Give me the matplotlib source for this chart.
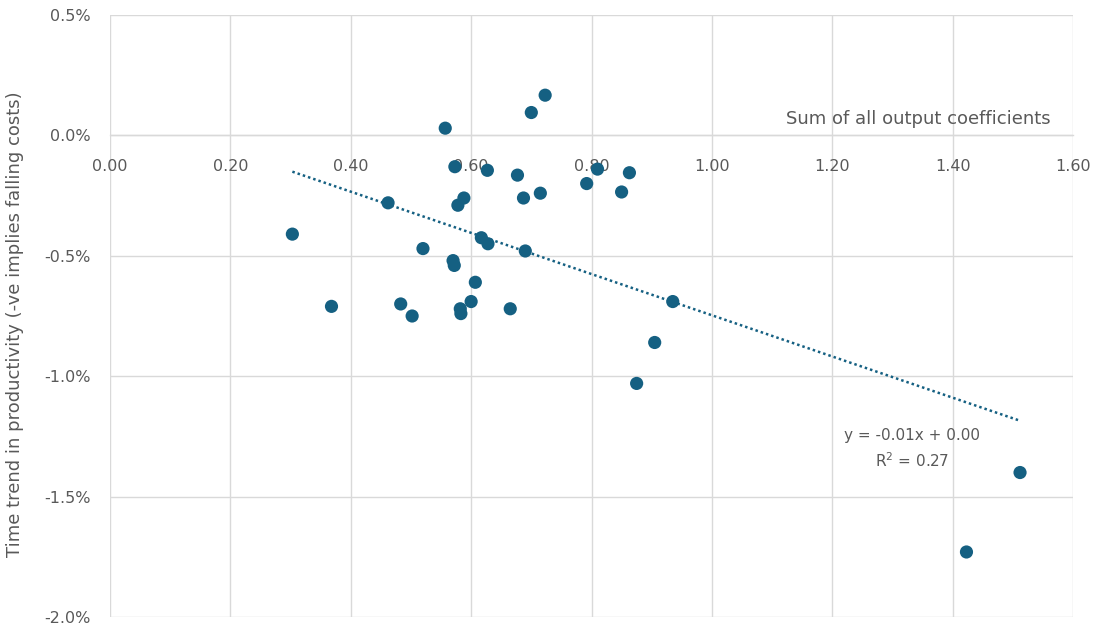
import matplotlib.pyplot as plt
import numpy as np
from matplotlib.ticker import FuncFormatter

# sum of output coefficients vs productivity time trend (%)
output_coef = [0.303, 0.368, 0.462, 0.483, 0.502, 0.520, 0.557, 0.570, 0.572,
               0.573, 0.578, 0.588, 0.617, 0.628, 0.607, 0.600, 0.582, 0.583,
               0.627, 0.677, 0.687, 0.690, 0.665, 0.700, 0.715, 0.723, 0.792,
               0.810, 0.850, 0.863, 0.935, 0.905, 0.875, 1.512, 1.423]
trend_pct = [-0.41, -0.71, -0.28, -0.70, -0.75, -0.47, 0.03, -0.52, -0.54,
             -0.13, -0.29, -0.26, -0.425, -0.45, -0.61, -0.69, -0.72, -0.74,
             -0.145, -0.165, -0.26, -0.48, -0.72, 0.095, -0.24, 0.167, -0.20,
             -0.14, -0.235, -0.155, -0.69, -0.86, -1.03, -1.40, -1.73]

x_ticks = [0.0, 0.2, 0.4, 0.6, 0.8, 1.0, 1.2, 1.4, 1.6]
y_ticks = [0.5, 0.0, -0.5, -1.0, -1.5, -2.0]

dot_color = "#156082"
grid_color = "#d9d9d9"
text_color = "#595959"

plt.rcParams['font.family'] = ['DejaVu Sans']

fig = plt.figure(figsize=(10.97, 6.28), dpi=100)
ax = fig.add_axes([110 / 1097, 1 - 617 / 628, 963 / 1097, 602 / 628])

ax.set_xlim(0, 1.6)
ax.set_ylim(-2.0, 0.5)
ax.set_xticks(x_ticks)
ax.set_yticks(y_ticks)
ax.grid(True, color=grid_color, linewidth=1.0, zorder=0)
ax.set_axisbelow(True)

for side in ['top', 'right', 'left']:
    ax.spines[side].set_visible(False)
ax.spines['bottom'].set_position(('data', 0))
ax.spines['bottom'].set_color(grid_color)
ax.spines['bottom'].set_linewidth(1.0)

ax.xaxis.set_major_formatter(FuncFormatter(lambda v, p: f"{v:.2f}"))
ax.yaxis.set_major_formatter(FuncFormatter(lambda v, p: f"{v:.1f}%"))
ax.tick_params(axis='x', length=0, pad=17, labelsize=11.5, labelcolor=text_color)
ax.tick_params(axis='y', length=0, pad=14, labelsize=11.5, labelcolor=text_color)

ax.scatter(output_coef, trend_pct, s=90, color=dot_color, edgecolors='none', zorder=3)

# linear trendline over data range
xs = np.array(output_coef)
m, b = np.polyfit(xs, np.array(trend_pct), 1)
xl = np.array([xs.min(), xs.max()])
ax.plot(xl, m * xl + b, linestyle=(0, (1, 1.2)), color=dot_color, linewidth=1.8, zorder=2)

ax.text(1.332, -1.245, "y = -0.01x + 0.00", ha='center', va='center',
        fontsize=11, color=text_color)
ax.text(1.332, -1.35, "R$^2$ = 0.27", ha='center', va='center',
        fontsize=11, color=text_color)

ax.text(1.562, 0.07, "Sum of all output coefficients", ha='right', va='center',
        fontsize=13, color=text_color)
ax.set_ylabel("Time trend in productivity (-ve implies falling costs)",
              fontsize=13, color=text_color)
ax.yaxis.set_label_coords(-0.089, 0.486)

fig.savefig("out.png", dpi=100)
